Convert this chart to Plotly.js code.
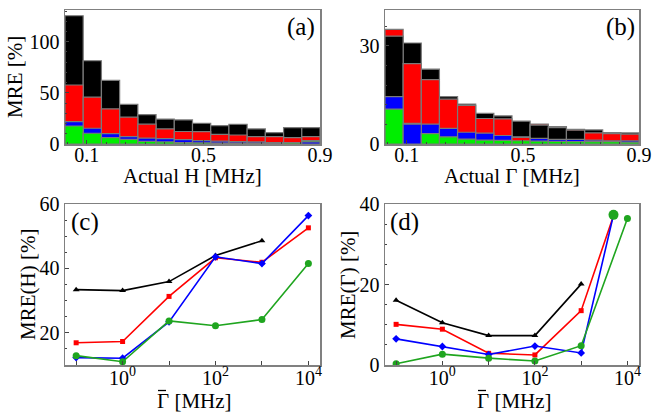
<!DOCTYPE html>
<html><head><meta charset="utf-8">
<script src="https://cdn.plot.ly/plotly-3.0.1.min.js"></script>
<style>html,body{margin:0;padding:0;background:#fff}#chart{width:652px;height:416px}</style>
</head><body><div id="chart"></div>
<script>
// ---- data ----
const binCenters = [0.05625, 0.11875, 0.18125, 0.24375, 0.30625, 0.36875, 0.43125, 0.49375, 0.55625, 0.61875, 0.68125, 0.74375, 0.80625, 0.86875];
const binWidth = 0.0625;

const histA_black = [125.4, 81.4, 62.2, 38.8, 28.7, 24.4, 23.5, 20.3, 18.0, 19.3, 14.7, 11.1, 16.0, 16.0];
const histA_red   = [57.7, 45.9, 34.4, 26.3, 19.4, 14.7, 12.2, 12.1, 9.5, 8.8, 7.2, 7.2, 6.2, 7.2];
const histA_blue  = [21.9, 15.4, 10.2, 7.2, 5.8, 5.2, 4.2, 3.3, 2.9, 2.3, 2.0, 1.3, 1.3, 2.0];
const histA_green = [17.6, 10.5, 6.3, 4.6, 2.6, 2.0, 1.3, 1.2, 1.0, 1.0, 1.0, 1.0, 1.3, 3.3];

const histB_black = [33.0, 30.9, 22.9, 14.5, 12.2, 9.4, 8.6, 7.0, 5.8, 5.0, 4.2, 4.3, 3.5, 3.4];
const histB_red   = [35.1, 24.6, 19.7, 13.7, 11.8, 7.8, 7.7, 2.0, 6.1, 5.3, 4.5, 3.4, 3.2, 3.0];
const histB_blue  = [14.5, 6.1, 6.1, 4.8, 3.6, 3.3, 2.6, 2.2, 1.7, 1.4, 1.4, 1.2, 1.0, 1.0];
const histB_green = [10.7, 6.3, 3.2, 2.2, 1.5, 1.2, 1.1, 1.0, 0.9, 0.8, 0.7, 0.7, 0.7, 0.6];

const gammaBar = [0.1, 1, 10, 100, 1000, 10000];
const gammaBarShort = [0.1, 1, 10, 100, 1000];
const gammaBarD = [0.1, 1, 10, 100, 1000, 5000];

const mreH_black = [33.4, 33.1, 35.9, 44.0, 48.6];
const mreH_red   = [16.9, 17.3, 31.3, 43.3, 41.9, 52.6];
const mreH_blue  = [12.3, 12.1, 23.4, 43.6, 41.5, 56.4];
const mreH_green = [12.9, 11.0, 23.7, 22.2, 24.1, 41.5];

const mreG_black = [16.1, 10.5, 7.3, 7.3, 20.1];
const mreG_red   = [10.1, 8.9, 2.9, 2.5, 13.5, 37.1];
const mreG_blue  = [6.5, 4.6, 2.6, 4.7, 3.0, 37.3];
const mreG_green = [0.3, 2.7, 1.7, 1.0, 4.8, 36.4];
const mreG_greenExtraX = [5000];
const mreG_greenExtraY = [37.3];

const logMajorTicks = [1, 100, 10000];
const logMajorText = ['10<sup>0</sup>', '10<sup>2</sup>', '10<sup>4</sup>'];
const logMinorTicks = [0.1, 10, 1000];

// ---- styles ----
const HC = {black:'#000000', red:'#ff0000', blue:'#0000ff', green:'#00ee00'};
const LC = {black:'#000000', red:'#ff0000', blue:'#0000ff', green:'#1fa51f'};
const FONT = 'Liberation Serif, Times New Roman, serif';
const W = 652, H = 416;
const px = x => x / W, py = y => 1 - y / H;

// layered (overlapped) histogram: in each bin the tallest bar is drawn behind
function layered(series, xa, ya) {
  const traces = [];
  const n = binCenters.length;
  const ranked = [];
  for (let i = 0; i < n; i++) {
    const arr = series.map(s => ({v: s.y[i], c: s.c}));
    arr.sort((a, b) => b.v - a.v);
    ranked.push(arr);
  }
  for (let r = 0; r < series.length; r++) {
    traces.push({
      type: 'bar', x: binCenters, y: ranked.map(a => a[r].v),
      width: binCenters.map(() => binWidth),
      marker: {color: ranked.map(a => a[r].c), line: {color: '#7a7a7a', width: 1.2}},
      xaxis: xa, yaxis: ya, showlegend: false, hoverinfo: 'skip'
    });
  }
  return traces;
}

const traces = [
  ...layered([{y: histA_black, c: HC.black}, {y: histA_red, c: HC.red}, {y: histA_blue, c: HC.blue}, {y: histA_green, c: HC.green}], 'x', 'y'),
  ...layered([{y: histB_black, c: HC.black}, {y: histB_red, c: HC.red}, {y: histB_blue, c: HC.blue}, {y: histB_green, c: HC.green}], 'x2', 'y2'),
];

function line(x, y, col, sym, xa, ya, size) {
  return {type: 'scatter', mode: 'lines+markers', x, y, xaxis: xa, yaxis: ya, showlegend: false,
    line: {color: col, width: 1.6}, marker: {color: col, symbol: sym, size: size || 6}};
}
traces.push(
  line(gammaBarShort, mreH_black, LC.black, 'triangle-up', 'x3', 'y3', 6),
  line(gammaBar, mreH_red, LC.red, 'square', 'x3', 'y3', 5),
  line(gammaBar, mreH_blue, LC.blue, 'diamond', 'x3', 'y3', 6),
  line(gammaBar, mreH_green, LC.green, 'circle', 'x3', 'y3', 7),
  line(gammaBarShort, mreG_black, LC.black, 'triangle-up', 'x4', 'y4', 6),
  line(gammaBarD, mreG_red, LC.red, 'square', 'x4', 'y4', 5),
  line(gammaBarD, mreG_blue, LC.blue, 'diamond', 'x4', 'y4', 6),
  line(gammaBar, mreG_green, LC.green, 'circle', 'x4', 'y4', 7),
  {type: 'scatter', mode: 'markers', x: mreG_greenExtraX, y: mreG_greenExtraY, xaxis: 'x4', yaxis: 'y4',
   showlegend: false, marker: {color: LC.green, symbol: 'circle', size: 10}}
);

const frame = {showline: true, mirror: true, linecolor: '#808080', linewidth: 1.5, zeroline: false,
  showgrid: false, ticks: 'inside', ticklen: 4, tickcolor: '#444', tickwidth: 1,
  tickfont: {family: FONT, size: 20, color: '#000'}, fixedrange: true};

const histX = (dom, anchor) => Object.assign({}, frame, {domain: dom, anchor, range: [0.025, 0.9],
  tickvals: [0.1, 0.5, 0.9], ticktext: ['0.1', '0.5', '0.9'], ticklabelstandoff: -8,
  minor: {tick0: 0.1, dtick: 0.4 / 6, ticks: 'inside', ticklen: 2, tickcolor: '#444'}});
const logX = (dom, anchor) => Object.assign({}, frame, {domain: dom, anchor, type: 'log', range: [-1.24, 4.25],
  tickvals: logMajorTicks, ticktext: logMajorText, ticklabelstandoff: -6,
  minor: {tickmode: 'array', tickvals: logMinorTicks, ticks: 'inside', ticklen: 4, tickcolor: '#444'}});

function ann(text, x, y, opts) {
  return Object.assign({text, x: px(x), y: py(y), xref: 'paper', yref: 'paper', showarrow: false,
    xanchor: 'center', yanchor: 'middle', font: {family: FONT, size: 21, color: '#000'}}, opts || {});
}

const layout = {
  width: W, height: H, margin: {l: 0, r: 0, t: 0, b: 0},
  paper_bgcolor: '#fff', plot_bgcolor: '#fff', barmode: 'overlay', bargap: 0,
  font: {family: FONT, size: 20, color: '#000'},
  xaxis: histX([px(65), px(320)], 'y'),
  yaxis: Object.assign({}, frame, {domain: [py(144), py(10)], anchor: 'x', range: [0, 131],
    tickvals: [0, 50, 100], minor: {dtick: 10, ticks: 'inside', ticklen: 2, tickcolor: '#444'}}),
  xaxis2: histX([px(385), px(639)], 'y2'),
  yaxis2: Object.assign({}, frame, {domain: [py(144), py(10)], anchor: 'x2', range: [0, 41],
    tickvals: [0, 30], minor: {dtick: 6, ticks: 'inside', ticklen: 2, tickcolor: '#444'}}),
  xaxis3: logX([px(65), px(320)], 'y3'),
  yaxis3: Object.assign({}, frame, {domain: [py(365), py(204)], anchor: 'x3', range: [10, 60], tickvals: [20, 40, 60],
    minor: {dtick: 5, ticks: 'inside', ticklen: 2, tickcolor: '#444'}}),
  xaxis4: logX([px(385), px(639)], 'y4'),
  yaxis4: Object.assign({}, frame, {domain: [py(365), py(204)], anchor: 'x4', range: [0, 40], tickvals: [0, 20, 40],
    minor: {dtick: 5, ticks: 'inside', ticklen: 2, tickcolor: '#444'}}),
  annotations: [
    ann('(a)', 301, 27, {font: {family: FONT, size: 25, color: '#000'}}),
    ann('(b)', 620, 27, {font: {family: FONT, size: 25, color: '#000'}}),
    ann('(c)', 85, 222, {font: {family: FONT, size: 25, color: '#000'}}),
    ann('(d)', 404, 222, {font: {family: FONT, size: 25, color: '#000'}}),
    ann('Actual H [MHz]', 192, 176),
    ann('Actual Γ [MHz]', 512, 176),
    ann('Γ [MHz]', 194, 401),
    ann('Γ [MHz]', 514, 401),
    ann('MRE [%]', 15, 77, {textangle: -90}),
    ann('MRE(H) [%]', 28, 285, {textangle: -90}),
    ann('MRE(Γ) [%]', 348, 285, {textangle: -90})
  ],
  shapes: [
    {type: 'line', xref: 'paper', yref: 'paper', x0: px(158), x1: px(166), y0: py(390.5), y1: py(390.5), line: {color: '#000', width: 1.3}},
    {type: 'line', xref: 'paper', yref: 'paper', x0: px(478), x1: px(486), y0: py(390.5), y1: py(390.5), line: {color: '#000', width: 1.3}}
  ]
};

Plotly.newPlot('chart', traces, layout, {displayModeBar: false, staticPlot: true});
</script></body></html>
